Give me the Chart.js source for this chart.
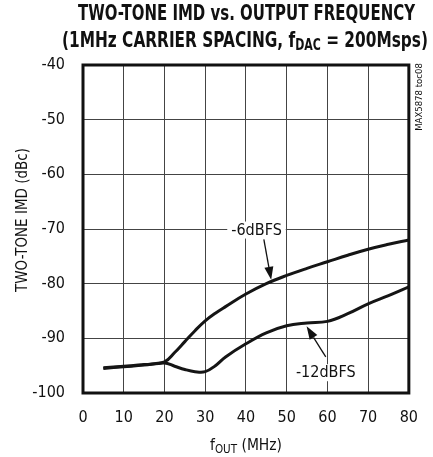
<!DOCTYPE html>
<html>
<head>
<meta charset="utf-8">
<script src="https://cdn.jsdelivr.net/npm/chart.js@4/dist/chart.umd.min.js"></script>
<style>
  body { margin: 0; background: #fff; }
  canvas { display: block; }
</style>
</head>
<body>
<canvas id="imdChart" width="433" height="457"></canvas>
<script>
// values (fOUT in MHz, IMD in dBc)
const freqMHz = [5, 10, 15, 20, 22.5, 25, 27.5, 30, 32.5, 35, 40, 45, 50, 55, 60, 65, 70, 75, 80];
const imd6dBFS = [-95.4, -95.1, -94.8, -94.3, -92.6, -90.6, -88.6, -86.8, -85.4, -84.2, -81.9, -80.0, -78.5, -77.2, -76.0, -74.8, -73.7, -72.8, -72.0];
const imd12dBFS = [-95.5, -95.2, -94.9, -94.5, -95.1, -95.7, -96.1, -96.1, -95.0, -93.4, -91.0, -89.0, -87.7, -87.2, -86.9, -85.5, -83.7, -82.2, -80.6];
const xTicks = [0, 10, 20, 30, 40, 50, 60, 70, 80];
const yTicks = [-100, -90, -80, -70, -60, -50, -40];

const NARROW = "'Liberation Sans Narrow', 'DejaVu Sans Condensed', 'Liberation Sans', sans-serif";
Chart.defaults.font.family = NARROW;
Chart.defaults.color = '#111';

function toPoints(xs, ys) {
    return xs.map((x, i) => ({ x: x, y: ys[i] }));
}

// draws several text runs (for subscripts) squeezed to a given width
function drawRuns(ctx, runs, left, width, baseline, weight) {
    let natural = 0;
    runs.forEach(r => {
        ctx.font = weight + ' ' + r.size + 'px ' + NARROW;
        r.w = ctx.measureText(r.text).width;
        natural += r.w;
    });
    const k = width / natural;
    ctx.save();
    ctx.translate(left, baseline);
    ctx.scale(k, 1);
    let x = 0;
    ctx.textAlign = 'left';
    ctx.textBaseline = 'alphabetic';
    runs.forEach(r => {
        ctx.font = weight + ' ' + r.size + 'px ' + NARROW;
        ctx.fillText(r.text, x, r.dy || 0);
        x += r.w;
    });
    ctx.restore();
}

function arrow(ctx, x1, y1, x2, y2) {
    const ang = Math.atan2(y2 - y1, x2 - x1);
    const len = 13, half = 4.5;
    const bx = x2 - len * Math.cos(ang), by = y2 - len * Math.sin(ang);
    ctx.beginPath();
    ctx.moveTo(x1, y1);
    ctx.lineTo(bx, by);
    ctx.lineWidth = 1.3;
    ctx.stroke();
    ctx.beginPath();
    ctx.moveTo(x2, y2);
    ctx.lineTo(bx + half * Math.sin(ang), by - half * Math.cos(ang));
    ctx.lineTo(bx - half * Math.sin(ang), by + half * Math.cos(ang));
    ctx.closePath();
    ctx.fill();
}

const decorations = {
    id: 'decorations',
    afterDraw(chart) {
        const ctx = chart.ctx;
        const a = chart.chartArea;
        const xs = chart.scales.x, ys = chart.scales.y;
        ctx.save();
        ctx.fillStyle = '#111';
        ctx.strokeStyle = '#111';

        // thick frame
        ctx.lineWidth = 3;
        ctx.strokeRect(a.left, a.top, a.right - a.left, a.bottom - a.top);

        // curve labels
        ctx.font = '16px ' + NARROW;
        ctx.textAlign = 'center';
        ctx.textBaseline = 'middle';
        const labels = [
            { text: '-6dBFS', x: 42.6, y: -70.1, from: [44.4, -71.9], to: [46.2, -79.3] },
            { text: '-12dBFS', x: 59.6, y: -96.2, from: [59.6, -93.4], to: [54.9, -87.8] }
        ];
        labels.forEach(l => {
            const px = xs.getPixelForValue(l.x), py = ys.getPixelForValue(l.y);
            const w = ctx.measureText(l.text).width;
            ctx.fillStyle = '#fff';
            ctx.fillRect(px - w / 2 - 4, py - 8, w + 8, 17);
            ctx.fillStyle = '#111';
            ctx.fillText(l.text, px, py + 1);
            arrow(ctx, xs.getPixelForValue(l.from[0]), ys.getPixelForValue(l.from[1]),
                xs.getPixelForValue(l.to[0]), ys.getPixelForValue(l.to[1]));
        });

        // title
        drawRuns(ctx, [{ text: 'TWO-TONE IMD vs. OUTPUT FREQUENCY', size: 21 }], 78, 337, 20, 'bold');
        drawRuns(ctx, [
            { text: '(1MHz CARRIER SPACING, f', size: 21 },
            { text: 'DAC', size: 15, dy: 3 },
            { text: ' = 200Msps)', size: 21 }
        ], 62, 366, 47, 'bold');

        // axis titles
        drawRuns(ctx, [
            { text: 'f', size: 16 },
            { text: 'OUT', size: 12, dy: 3 },
            { text: ' (MHz)', size: 16 }
        ], 210, 72, 450, 'normal');

        ctx.save();
        ctx.translate(27, 220);
        ctx.rotate(-Math.PI / 2);
        ctx.font = '15px ' + NARROW;
        ctx.textAlign = 'center';
        ctx.textBaseline = 'alphabetic';
        ctx.fillText('TWO-TONE IMD (dBc)', 0, 0);
        ctx.restore();

        // figure code
        ctx.save();
        ctx.translate(422, 97);
        ctx.rotate(-Math.PI / 2);
        ctx.font = '9.5px ' + NARROW;
        ctx.textAlign = 'center';
        ctx.textBaseline = 'alphabetic';
        ctx.fillText('MAX5878 toc08', 0, 0);
        ctx.restore();

        ctx.restore();
    }
};

new Chart(document.getElementById('imdChart').getContext('2d'), {
    type: 'line',
    data: {
        datasets: [{
            label: '-6dBFS',
            data: toPoints(freqMHz, imd6dBFS),
            borderColor: '#151515',
            borderWidth: 3,
            pointRadius: 0,
            tension: 0.4
        }, {
            label: '-12dBFS',
            data: toPoints(freqMHz, imd12dBFS),
            borderColor: '#151515',
            borderWidth: 3,
            pointRadius: 0,
            tension: 0.4
        }]
    },
    options: {
        responsive: false,
        animation: false,
        layout: { padding: { top: 65, right: 21, left: 0, bottom: 0 } },
        plugins: {
            legend: { display: false },
            tooltip: { enabled: false }
        },
        scales: {
            x: {
                type: 'linear',
                min: 0,
                max: 80,
                afterBuildTicks: s => { s.ticks = xTicks.map(v => ({ value: v })); },
                afterFit: s => { s.height = 64; },
                ticks: { padding: 15, font: { size: 16 }, maxRotation: 0 },
                grid: { color: '#444', lineWidth: 1, drawTicks: false },
                border: { display: false }
            },
            y: {
                min: -100,
                max: -40,
                afterBuildTicks: s => { s.ticks = yTicks.map(v => ({ value: v })); },
                afterFit: s => { s.width = 83; },
                ticks: { padding: 18, font: { size: 16 } },
                grid: { color: '#444', lineWidth: 1, drawTicks: false },
                border: { display: false }
            }
        }
    },
    plugins: [decorations]
});
</script>
</body>
</html>
